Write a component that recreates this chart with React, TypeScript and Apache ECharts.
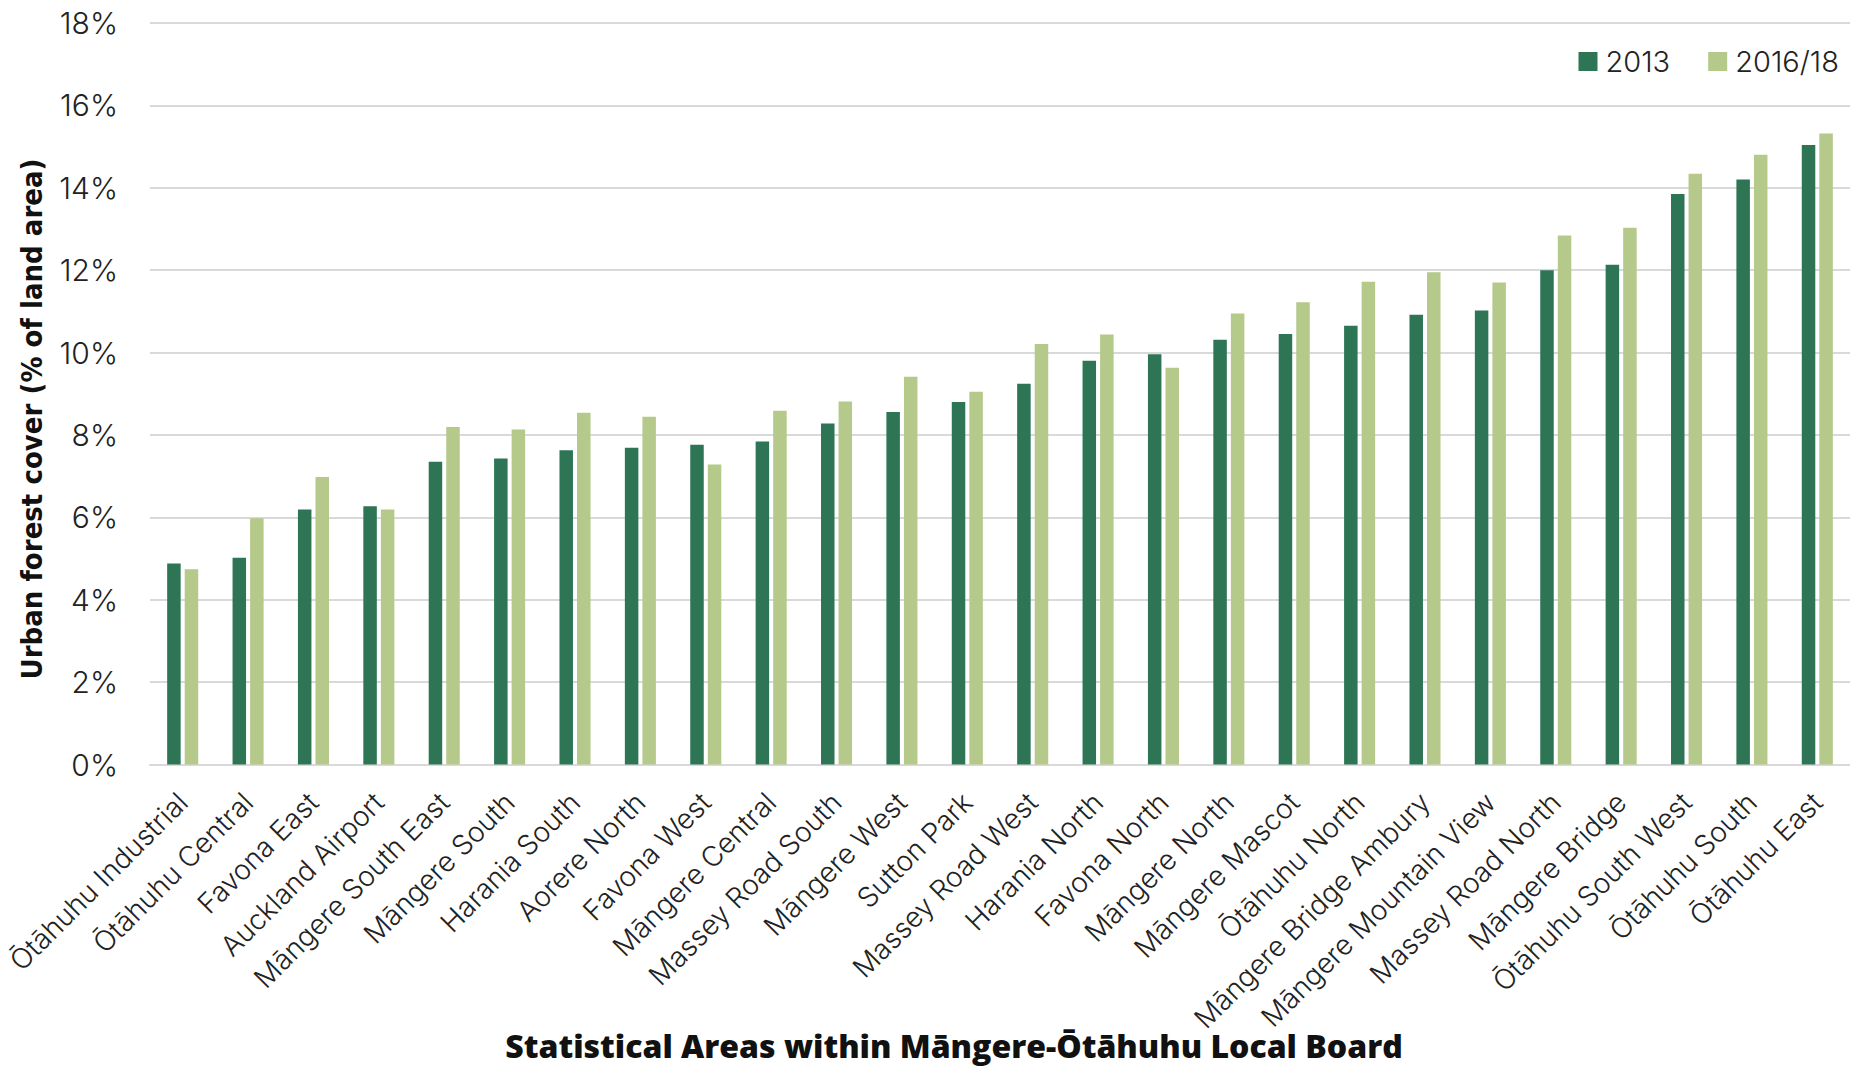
import React, { useEffect, useRef } from "react";
import * as echarts from "echarts";

const categories = [
  "Ōtāhuhu Industrial",
  "Ōtāhuhu Central",
  "Favona East",
  "Auckland Airport",
  "Māngere South East",
  "Māngere South",
  "Harania South",
  "Aorere North",
  "Favona West",
  "Māngere Central",
  "Massey Road South",
  "Māngere West",
  "Sutton Park",
  "Massey Road West",
  "Harania North",
  "Favona North",
  "Māngere North",
  "Māngere Mascot",
  "Ōtāhuhu North",
  "Māngere Bridge Ambury",
  "Māngere Mountain View",
  "Massey Road North",
  "Māngere Bridge",
  "Ōtāhuhu South West",
  "Ōtāhuhu South",
  "Ōtāhuhu East",
];

const values2013 = [
  4.88, 5.02, 6.19, 6.27, 7.35, 7.43, 7.63, 7.69, 7.76, 7.84, 8.28, 8.56, 8.8,
  9.24, 9.8, 9.96, 10.31, 10.45, 10.65, 10.92, 11.02, 12.0, 12.13, 13.85, 14.2,
  15.04,
];

const values2016 = [
  4.74, 5.98, 6.98, 6.19, 8.19, 8.13, 8.54, 8.44, 7.28, 8.59, 8.81, 9.41, 9.05,
  10.21, 10.44, 9.63, 10.95, 11.22, 11.72, 11.95, 11.7, 12.84, 13.03, 14.34,
  14.8, 15.32,
];

const seriesNames = ["2013", "2016/18"];
const yTitle = "Urban forest cover (% of land area)";
const xTitle = "Statistical Areas within Māngere-Ōtāhuhu Local Board";

const DARK = "#2e7555";
const LIGHT = "#b5c98a";
const FONT = "Inter, 'Noto Sans', sans-serif";

export default function App() {
  const ref = useRef<HTMLDivElement>(null);

  useEffect(() => {
    if (!ref.current) return;
    const chart = echarts.init(ref.current, undefined, { renderer: "svg" });
    chart.setOption({
      animation: false,
      backgroundColor: "#ffffff",
      grid: { left: 150, right: 0, top: 23, bottom: 1066 - 764.5 },
      legend: {
        data: seriesNames,
        right: 6,
        top: 42,
        icon: "rect",
        itemWidth: 19,
        itemHeight: 19,
        itemGap: 38,
        textStyle: {
          fontFamily: FONT,
          fontSize: 29,
          fontWeight: 300,
          color: "#222",
          padding: [0, 0, 0, 3],
        },
      },
      xAxis: {
        type: "category",
        data: categories,
        axisLine: { show: true, lineStyle: { color: "#d9d9d9", width: 2 } },
        axisTick: { show: false },
        axisLabel: {
          interval: 0,
          rotate: 45,
          margin: 33,
          fontFamily: FONT,
          fontSize: 28,
          fontWeight: 300,
          color: "#222",
        },
      },
      yAxis: {
        type: "value",
        min: 0,
        max: 18,
        interval: 2,
        axisLine: { show: false },
        axisTick: { show: false },
        splitLine: { lineStyle: { color: "#d9d9d9", width: 2 } },
        axisLabel: {
          formatter: "{value}%",
          margin: 32,
          fontFamily: FONT,
          fontSize: 30,
          fontWeight: 300,
          color: "#222",
        },
      },
      series: [
        {
          name: seriesNames[0],
          type: "bar",
          data: values2013,
          barWidth: 13.5,
          barGap: "30%",
          itemStyle: { color: DARK },
        },
        {
          name: seriesNames[1],
          type: "bar",
          data: values2016,
          barWidth: 13.5,
          barGap: "30%",
          itemStyle: { color: LIGHT },
        },
      ],
      graphic: [
        {
          type: "text",
          x: 32,
          y: 419,
          rotation: Math.PI / 2,
          style: {
            text: yTitle,
            align: "center",
            verticalAlign: "middle",
            fontFamily: "'Liberation Sans Narrow', 'DejaVu Sans Condensed', sans-serif",
            fontWeight: "bold",
            fontSize: 29,
            fill: "#111",
          },
        },
        {
          type: "text",
          x: 954,
          y: 1045,
          style: {
            text: xTitle,
            align: "center",
            verticalAlign: "middle",
            fontFamily: "'Open Sans', sans-serif",
            fontWeight: 800,
            fontSize: 32,
            fill: "#111",
          },
        },
      ],
    });
    return () => chart.dispose();
  }, []);

  return (
    <div
      ref={ref}
      style={{ position: "fixed", left: 0, top: 0, width: 1850, height: 1066 }}
    />
  );
}
